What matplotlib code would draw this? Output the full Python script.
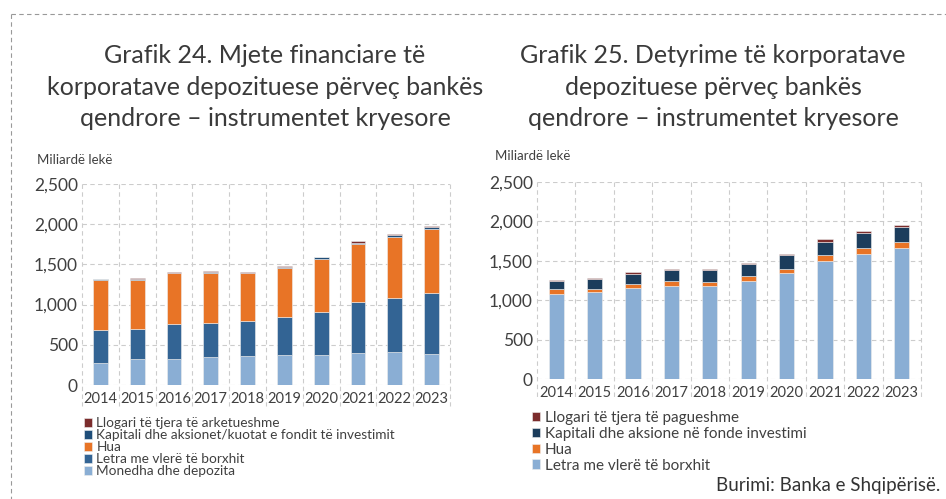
import numpy as np
import matplotlib
matplotlib.use("Agg")
import matplotlib.pyplot as plt
from matplotlib.ticker import FuncFormatter

plt.rcParams["font.family"] = ["Lato", "DejaVu Sans"]
TXT = "#404040"

years = ["2014", "2015", "2016", "2017", "2018", "2019", "2020", "2021", "2022", "2023"]

# Grafik 24 - assets (bn ALL), stacked bottom to top
a_monedha = [274, 323, 328, 352, 357, 373, 369, 398, 406, 386]
a_letra = [414, 378, 427, 415, 443, 477, 543, 638, 680, 762]
a_hua = [622, 609, 634, 630, 589, 609, 659, 714, 759, 792]
a_kapitali = [6, 12, 10, 12, 8, 11, 15, 21, 20, 28]
a_llogari = [6, 10, 11, 13, 8, 10, 10, 20, 13, 10]
a_labels = ["Monedha dhe depozita", "Letra me vlerë të borxhit", "Hua",
            "Kapitali dhe aksionet/kuotat e fondit të investimit",
            "Llogari të tjera të arketueshme"]
a_colors = ["#8aaed4", "#336494", "#e87426", "#1f4e79", "#7b2c2c"]

# Grafik 25 - liabilities (bn ALL)
l_letra = [1081, 1098, 1149, 1174, 1182, 1246, 1343, 1499, 1588, 1664]
l_hua = [55, 46, 59, 68, 55, 59, 59, 72, 72, 76]
l_kapitali = [106, 123, 126, 143, 148, 152, 169, 173, 190, 190]
l_llogari = [16, 17, 26, 17, 17, 17, 17, 30, 25, 21]
l_labels = ["Letra me vlerë të borxhit", "Hua",
            "Kapitali dhe aksione në fonde investimi",
            "Llogari të tjera të pagueshme"]
l_colors = ["#8aaed4", "#e87426", "#1c3d5c", "#7b2c2c"]

W, H = 946, 499
fig = plt.figure(figsize=(W / 100, H / 100), dpi=100, facecolor="white")


def px_axes(x0, x1, ytop, ybot):
    return fig.add_axes([x0 / W, 1 - ybot / H, (x1 - x0) / W, (ybot - ytop) / H])


def stacked(ax, series, colors, labels):
    x = np.arange(len(years))
    bottom = np.zeros(len(years))
    handles = []
    for vals, c, lab in zip(series, colors, labels):
        b = ax.bar(x, vals, 0.4, bottom=bottom, color=c, edgecolor="#eeeeee",
                   linewidth=0.4, label=lab, zorder=3)
        handles.append(b)
        bottom += np.array(vals)
    ax.set_xlim(-0.5, len(years) - 0.5)
    ax.set_ylim(0, 2500)
    ax.set_yticks(range(0, 2501, 500))
    ax.yaxis.set_major_formatter(FuncFormatter(lambda v, p: f"{int(v):,}"))
    ax.set_xticks(x)
    ax.set_xticklabels(years)
    ax.tick_params(length=0, colors=TXT)
    ax.tick_params(axis="y", labelsize=12.5, pad=3)
    ax.tick_params(axis="x", labelsize=10.5, pad=5)
    for s in ax.spines.values():
        s.set_visible(False)
    ax.grid(axis="y", color="#cccccc", linestyle=(0, (4, 3)), linewidth=0.8, zorder=0)
    # dashed category separators reaching down through the labels
    for xb in np.arange(-0.5, len(years), 1.0):
        ax.plot([xb, xb], [2500, -260], color="#cccccc", linestyle=(0, (4, 3)),
                linewidth=0.8, clip_on=False, zorder=0)
    return handles


ax1 = px_axes(82, 450, 184, 385)
h1 = stacked(ax1, [a_monedha, a_letra, a_hua, a_kapitali, a_llogari], a_colors, a_labels)
ax2 = px_axes(537, 921, 182, 379)
h2 = stacked(ax2, [l_letra, l_hua, l_kapitali, l_llogari], l_colors, l_labels)

fig.text(265 / W, 1 - 87 / H,
         "Grafik 24. Mjete financiare të\nkorporatave depozituese përveç bankës\nqendrore – instrumentet kryesore",
         ha="center", va="center", fontsize=18, color="#3a3a3a", linespacing=1.45)
fig.text(713 / W, 1 - 87 / H,
         "Grafik 25. Detyrime të korporatave\ndepozituese përveç bankës\nqendrore – instrumentet kryesore",
         ha="center", va="center", fontsize=18, color="#3a3a3a", linespacing=1.45)
fig.text(37 / W, 1 - 160 / H, "Miliardë lekë", fontsize=9.5, color=TXT, va="center")
fig.text(495 / W, 1 - 156 / H, "Miliardë lekë", fontsize=9.5, color=TXT, va="center")

leg1 = fig.legend(h1[::-1], a_labels[::-1], loc="upper left",
                  bbox_to_anchor=(84 / W, 1 - 417 / H), frameon=False, fontsize=9.8,
                  handlelength=0.6, handleheight=0.6, handletextpad=0.3,
                  labelspacing=0.0, borderaxespad=0, borderpad=0)
leg2 = fig.legend(h2[::-1], l_labels[::-1], loc="upper left",
                  bbox_to_anchor=(532 / W, 1 - 411 / H), frameon=False, fontsize=11,
                  handlelength=0.55, handleheight=0.55, handletextpad=0.3,
                  labelspacing=0.12, borderaxespad=0, borderpad=0)
for lg in (leg1, leg2):
    for t in lg.get_texts():
        t.set_color(TXT)

fig.text(940 / W, 1 - 485 / H, "Burimi: Banka e Shqipërisë.", ha="right", va="center",
         fontsize=13.5, color="#333333")

# dashed frame on top and left
fig.add_artist(plt.Line2D([11 / W, 1.0], [1 - 14 / H, 1 - 14 / H], color="#999999",
                          linestyle=(0, (4, 3)), linewidth=0.8))
fig.add_artist(plt.Line2D([11 / W, 11 / W], [1 - 14 / H, 0], color="#999999",
                          linestyle=(0, (4, 3)), linewidth=0.8))

fig.savefig("out.png", dpi=100, facecolor="white")
